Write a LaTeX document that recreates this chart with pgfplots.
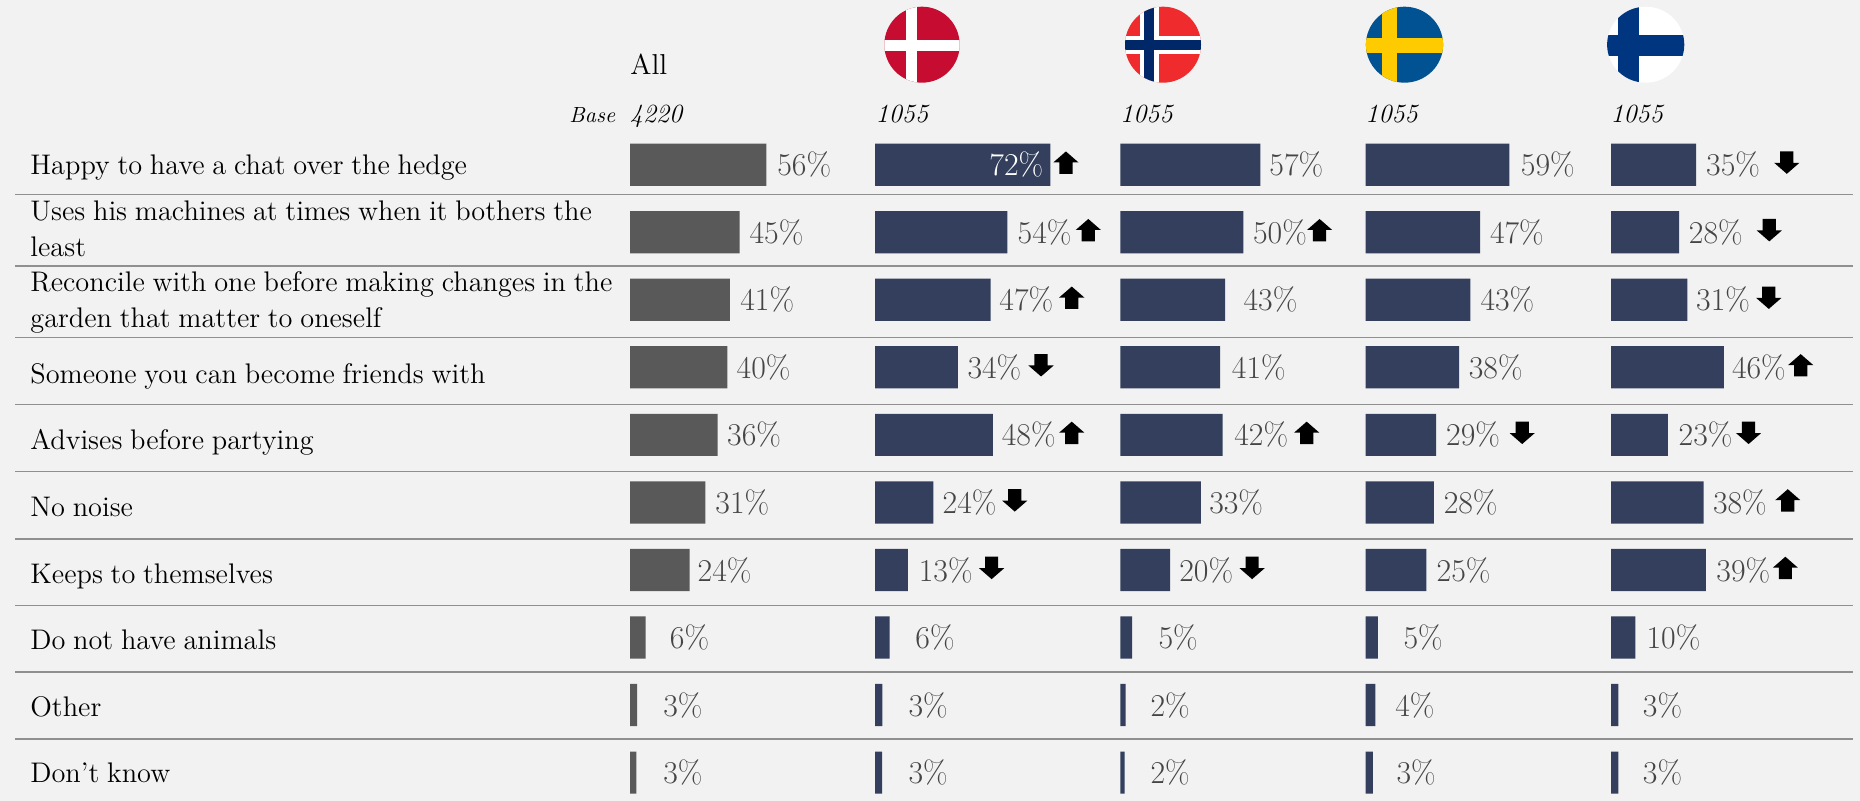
\RequirePackage{fix-cm}
\documentclass[border=0pt]{standalone}
\usepackage{pgfplots}
\usepackage{pgfplotstable}
\pgfplotsset{compat=1.18}
\definecolor{bgc}{HTML}{F2F2F2}
\definecolor{allc}{HTML}{595959}
\definecolor{navy}{HTML}{333F5C}
\definecolor{rulec}{HTML}{909090}
\definecolor{pct}{HTML}{454545}
\definecolor{dkred}{HTML}{C60C30}
\definecolor{nored}{HTML}{EF2B2D}
\definecolor{noblue}{HTML}{002868}
\definecolor{seblue}{HTML}{005293}
\definecolor{seyel}{HTML}{FECB00}
\definecolor{fiblue}{HTML}{003580}
\pgfdeclareplotmark{arrup}{\pgfpathmoveto{\pgfpoint{0pt}{5.6pt}}\pgfpathlineto{\pgfpoint{6.3pt}{0.1pt}}\pgfpathlineto{\pgfpoint{3.3pt}{0.1pt}}\pgfpathlineto{\pgfpoint{3.3pt}{-5.6pt}}\pgfpathlineto{\pgfpoint{-3.3pt}{-5.6pt}}\pgfpathlineto{\pgfpoint{-3.3pt}{0.1pt}}\pgfpathlineto{\pgfpoint{-6.3pt}{0.1pt}}\pgfpathclose\pgfusepathqfill}
\pgfdeclareplotmark{arrdn}{\pgfpathmoveto{\pgfpoint{0pt}{-5.6pt}}\pgfpathlineto{\pgfpoint{6.3pt}{-0.1pt}}\pgfpathlineto{\pgfpoint{3.3pt}{-0.1pt}}\pgfpathlineto{\pgfpoint{3.3pt}{5.6pt}}\pgfpathlineto{\pgfpoint{-3.3pt}{5.6pt}}\pgfpathlineto{\pgfpoint{-3.3pt}{-0.1pt}}\pgfpathlineto{\pgfpoint{-6.3pt}{-0.1pt}}\pgfpathclose\pgfusepathqfill}
\pgfplotstableread{
row val lab lx
0 56.0 56 60.5
1 45.0 45 49.1
2 41.0 41 45.3
3 40.0 40 43.8
4 36.0 36 39.9
5 31.0 31 35.1
6 24.5 24 27.8
7 6.4 6 16.4
8 2.9 3 13.7
9 2.6 3 13.7
}\tAll
\pgfplotstableread{
row val lab lx
0 72.0 72 47.0
1 54.4 54 58.6
2 47.5 47 51.1
3 34.0 34 38.0
4 48.4 48 52.1
5 24.0 24 27.8
6 13.5 13 18.0
7 6.0 6 16.6
8 3.0 3 13.8
9 2.9 3 13.8
}\tDK
\pgfplotstableread{
row val lab lx
0 57.5 57 61.2
1 50.5 50 54.5
2 43.0 43 50.6
3 41.0 41 45.8
4 42.0 42 46.8
5 33.0 33 36.5
6 20.4 20 24.2
7 4.8 5 15.7
8 2.1 2 12.4
9 1.7 2 12.4
}\tNO
\pgfplotstableread{
row val lab lx
0 59.0 59 63.8
1 47.0 47 51.1
2 43.0 43 47.2
3 38.4 38 42.4
4 29.0 29 33.1
5 28.0 28 32.1
6 25.0 25 29.2
7 5.0 5 15.6
8 4.0 4 12.2
9 3.0 3 12.7
}\tSE
\pgfplotstableread{
row val lab lx
0 35.0 35 39.1
1 28.0 28 32.0
2 31.4 31 35.0
3 46.4 46 49.7
4 23.4 23 27.8
5 38.0 38 41.9
6 39.0 39 43.3
7 10.0 10 14.6
8 3.0 3 13.1
9 3.0 3 13.1
}\tFI
\pgfplotsset{panel/.style={
  scale only axis, width=121.75pt, height=337.75pt,
  xmin=0, xmax=100, ymin=-0.5, ymax=9.5, y dir=reverse,
  hide axis, clip=false, anchor=north west,
  at={(#1*0.5pt,400.5pt-65.45pt)}},
  barplot/.style={xbar, bar width=21.1pt, bar shift=0pt, fill=#1, draw=none},
  labplot/.style={draw=none, mark=none, point meta=explicit symbolic,
    nodes near coords={\pgfplotspointmeta\%},
    nodes near coords style={anchor=west, inner sep=0pt, outer sep=0pt, text=#1, font=\fontsize{15.9pt}{18pt}\selectfont}},
  arrplot/.style={only marks, mark=#1, black, mark options={black}}
}
\newcommand{\lab}[3]{\node[anchor=base west,inner sep=0pt,font=\fontsize{14.17pt}{17pt}\selectfont] at (#1,#2) {\spaceskip=0.273em\relax #3};}
\newcommand{\ital}[4]{\node[anchor=base #1,inner sep=0pt,font=\fontsize{#4}{14pt}\selectfont\itshape] at (#2,122.7) {#3};}
\begin{document}
\begin{tikzpicture}
\fill[bgc] (0,0) rectangle (930pt,400.5pt);
\useasboundingbox (0,0) rectangle (930pt,400.5pt);
\begin{scope}[x=0.5pt,y=-0.5pt,yshift=400.5pt]
\foreach \y in {194.7,266,337.7,404.5,471.5,539,605.7,672,739}{
  \draw[rulec,line width=0.7pt] (15,\y) -- (1853,\y);}
\lab{30}{174.1}{Happy to have a chat over the hedge}
\lab{30}{220.7}{Uses his machines at times when it bothers the}
\lab{30}{256.3}{least}
\lab{30}{291.3}{Reconcile with one before making changes in the}
\lab{30}{327.3}{garden that matter to oneself}
\lab{30}{383.1}{Someone you can become friends with}
\lab{30}{449.9}{Advises before partying}
\lab{30}{516.9}{No noise}
\lab{30}{583.9}{Keeps to themselves}
\lab{30}{649.9}{Do not have animals}
\lab{30}{716.4}{Other}
\lab{30}{782.9}{Don’t know}
\node[anchor=base west,inner sep=0pt,font=\fontsize{14.4pt}{16pt}\selectfont] at (630,74.5) {All};
\ital{east}{615.5}{Base}{10.95pt}
\ital{west}{629.5}{4220}{13.1pt}
\ital{west}{875.3}{1055}{13.1pt}
\ital{west}{1119.8}{1055}{13.1pt}
\ital{west}{1365}{1055}{13.1pt}
\ital{west}{1610.1}{1055}{13.1pt}
% flags
\begin{scope}
\clip (922,44.7) ellipse [x radius=37.7, y radius=38];
\fill[dkred] (880,0) rectangle (965,90);
\fill[white] (905.7,0) rectangle (916.7,90);
\fill[white] (880,40) rectangle (965,50.7);
\end{scope}
\begin{scope}
\clip (1163,44.7) ellipse [x radius=38, y radius=38];
\fill[nored] (1120,0) rectangle (1205,90);
\fill[white] (1139.6,0) rectangle (1158.5,90);
\fill[white] (1120,35.7) rectangle (1205,54.3);
\fill[noblue] (1144,0) rectangle (1154.3,90);
\fill[noblue] (1120,40) rectangle (1205,50);
\end{scope}
\begin{scope}
\clip (1404.5,44.7) ellipse [x radius=38.6, y radius=38];
\fill[seblue] (1360,0) rectangle (1450,90);
\fill[seyel] (1382.3,0) rectangle (1397,90);
\fill[seyel] (1360,37.7) rectangle (1450,53.3);
\end{scope}
\begin{scope}
\clip (1645.7,44.7) ellipse [x radius=38.6, y radius=38];
\fill[white] (1600,0) rectangle (1690,90);
\fill[fiblue] (1617.7,0) rectangle (1638.7,90);
\fill[fiblue] (1600,35) rectangle (1690,55.7);
\end{scope}
\end{scope}
% panels
\begin{axis}[panel=630]
\addplot[barplot=allc] table[x=val,y=row]{\tAll};
\addplot[labplot=pct] table[x=lx,y=row,meta=lab]{\tAll};
\end{axis}
\begin{axis}[panel=875]
\addplot[barplot=navy] table[x=val,y=row]{\tDK};
\addplot[labplot=pct,skip coords between index={0}{1}] table[x=lx,y=row,meta=lab]{\tDK};
\addplot[labplot=white,skip coords between index={1}{10}] table[x=lx,y=row,meta=lab]{\tDK};
\addplot[arrplot=arrup] coordinates {(78.4,-0.03) (87.6,0.97) (80.8,1.97) (80.8,3.97)};
\addplot[arrplot=arrdn] coordinates {(68.2,2.97) (57.4,4.97) (47.9,5.97)};
\end{axis}
\begin{axis}[panel=1120.4]
\addplot[barplot=navy] table[x=val,y=row]{\tNO};
\addplot[labplot=pct] table[x=lx,y=row,meta=lab]{\tNO};
\addplot[arrplot=arrup] coordinates {(81.8,0.97) (76.5,3.97)};
\addplot[arrplot=arrdn] coordinates {(54.1,5.97)};
\end{axis}
\begin{axis}[panel=1365.6]
\addplot[barplot=navy] table[x=val,y=row]{\tSE};
\addplot[labplot=pct] table[x=lx,y=row,meta=lab]{\tSE};
\addplot[arrplot=arrdn] coordinates {(64.3,3.97)};
\end{axis}
\begin{axis}[panel=1611]
\addplot[barplot=navy] table[x=val,y=row]{\tFI};
\addplot[labplot=pct] table[x=lx,y=row,meta=lab]{\tFI};
\addplot[arrplot=arrdn] coordinates {(72.2,-0.03) (65,0.97) (64.8,1.97) (56.5,3.97)};
\addplot[arrplot=arrup] coordinates {(77.9,2.97) (72.6,4.97) (71.6,5.97)};
\end{axis}
\end{tikzpicture}
\end{document}
